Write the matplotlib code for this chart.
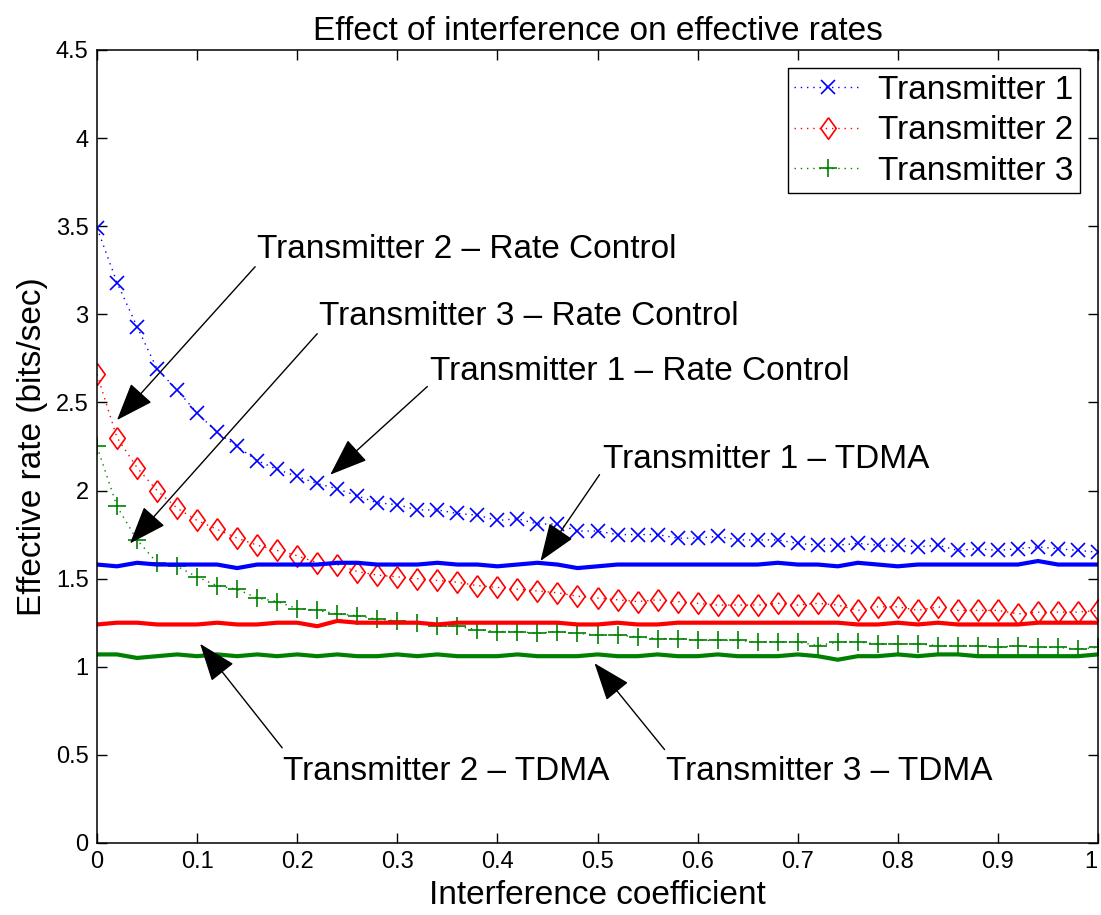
import numpy as np
import matplotlib
matplotlib.use('Agg')
import matplotlib.pyplot as plt
import matplotlib.transforms as mtransforms
from matplotlib.ticker import FormatStrFormatter

plt.rcParams['font.family'] = ['Liberation Sans', 'DejaVu Sans']

# interference coefficient, 0..1 in steps of 0.02
coef = np.round(np.arange(0, 1.0001, 0.02), 2)

# rate control results
rate_tx1 = [3.49, 3.18, 2.93, 2.69, 2.57, 2.44, 2.33, 2.25, 2.17, 2.12,
            2.08, 2.04, 2.01, 1.97, 1.93, 1.92, 1.89, 1.89, 1.87, 1.86,
            1.83, 1.84, 1.81, 1.81, 1.77, 1.77, 1.75, 1.75, 1.75, 1.73,
            1.73, 1.74, 1.72, 1.72, 1.72, 1.70, 1.69, 1.69, 1.70, 1.69,
            1.69, 1.68, 1.69, 1.66, 1.67, 1.66, 1.67, 1.68, 1.67, 1.66,
            1.65]
rate_tx2 = [2.66, 2.30, 2.13, 2.00, 1.90, 1.83, 1.78, 1.73, 1.69, 1.66,
            1.63, 1.59, 1.58, 1.54, 1.52, 1.51, 1.50, 1.49, 1.48, 1.46,
            1.45, 1.44, 1.43, 1.42, 1.40, 1.39, 1.38, 1.37, 1.38, 1.37,
            1.36, 1.35, 1.35, 1.35, 1.36, 1.35, 1.36, 1.35, 1.32, 1.34,
            1.34, 1.32, 1.34, 1.32, 1.32, 1.32, 1.30, 1.31, 1.31, 1.31,
            1.32]
rate_tx3 = [2.25, 1.91, 1.72, 1.59, 1.57, 1.51, 1.46, 1.44, 1.39, 1.37,
            1.33, 1.32, 1.30, 1.29, 1.27, 1.26, 1.25, 1.23, 1.23, 1.21,
            1.20, 1.20, 1.19, 1.20, 1.19, 1.18, 1.18, 1.17, 1.16, 1.16,
            1.15, 1.15, 1.15, 1.14, 1.14, 1.14, 1.12, 1.14, 1.14, 1.13,
            1.13, 1.13, 1.12, 1.12, 1.12, 1.11, 1.12, 1.11, 1.11, 1.10,
            1.11]

# TDMA results
tdma_tx1 = [1.58, 1.57, 1.59, 1.58, 1.58, 1.58, 1.58, 1.56, 1.58, 1.58,
            1.58, 1.58, 1.59, 1.59, 1.58, 1.58, 1.58, 1.59, 1.58, 1.58,
            1.57, 1.58, 1.59, 1.58, 1.56, 1.57, 1.58, 1.58, 1.58, 1.58,
            1.58, 1.58, 1.58, 1.58, 1.59, 1.58, 1.58, 1.57, 1.59, 1.58,
            1.57, 1.58, 1.58, 1.58, 1.58, 1.58, 1.58, 1.60, 1.58, 1.58,
            1.58]
tdma_tx2 = [1.24, 1.25, 1.25, 1.24, 1.24, 1.24, 1.25, 1.24, 1.24, 1.25,
            1.25, 1.23, 1.26, 1.25, 1.25, 1.25, 1.25, 1.24, 1.25, 1.25,
            1.25, 1.25, 1.25, 1.25, 1.24, 1.24, 1.25, 1.24, 1.24, 1.25,
            1.25, 1.25, 1.25, 1.25, 1.25, 1.25, 1.25, 1.25, 1.24, 1.24,
            1.25, 1.24, 1.25, 1.24, 1.24, 1.24, 1.24, 1.25, 1.25, 1.25,
            1.25]
tdma_tx3 = [1.07, 1.07, 1.05, 1.06, 1.07, 1.06, 1.07, 1.06, 1.07, 1.06,
            1.07, 1.06, 1.07, 1.06, 1.06, 1.07, 1.06, 1.07, 1.06, 1.06,
            1.06, 1.07, 1.06, 1.06, 1.06, 1.07, 1.06, 1.06, 1.07, 1.06,
            1.06, 1.07, 1.06, 1.06, 1.06, 1.07, 1.06, 1.04, 1.06, 1.06,
            1.07, 1.06, 1.07, 1.07, 1.06, 1.06, 1.06, 1.06, 1.06, 1.06,
            1.07]

labels = ['Transmitter 1', 'Transmitter 2', 'Transmitter 3']
colors = ['#0000ff', '#ff0000', '#008000']

# diamond a bit narrower than tall
diamond = [(0, 1), (0.72, 0), (0, -1), (-0.72, 0), (0, 1)]
dots = (0, (1, 3.5))

fig = plt.figure(figsize=(11.01, 9.15), dpi=100)
ax = fig.add_axes([0.0881, 0.0787, 0.9092, 0.8667])

ax.plot(coef, rate_tx1, linestyle=dots, color=colors[0], lw=1, marker='x',
        ms=10, mew=1.2, label=labels[0])
ax.plot(coef, rate_tx2, linestyle=dots, color=colors[1], lw=1, marker=diamond,
        ms=15.5, mew=1.2, mfc='none', label=labels[1])
ax.plot(coef, rate_tx3, linestyle=dots, color=colors[2], lw=1, marker='+',
        ms=13, mew=1.2, label=labels[2])

ax.plot(coef, tdma_tx1, '-', color=colors[0], lw=3)
ax.plot(coef, tdma_tx2, '-', color=colors[1], lw=3)
ax.plot(coef, tdma_tx3, '-', color=colors[2], lw=3)

# text, text baseline-left, arrow tail, arrow tip
notes = [
    ('Transmitter 2 – Rate Control', (0.160, 3.32), (0.158, 3.27), (0.020, 2.40)),
    ('Transmitter 3 – Rate Control', (0.222, 2.94), (0.220, 2.89), (0.033, 1.70)),
    ('Transmitter 1 – Rate Control', (0.333, 2.63), (0.330, 2.59), (0.233, 2.09)),
    ('Transmitter 1 – TDMA', (0.505, 2.13), (0.502, 2.09), (0.443, 1.60)),
    ('Transmitter 2 – TDMA', (0.186, 0.36), (0.185, 0.54), (0.103, 1.13)),
    ('Transmitter 3 – TDMA', (0.568, 0.36), (0.567, 0.53), (0.497, 1.02)),
]
for txt, pos, tail, tip in notes:
    ax.annotate('', xy=tip, xytext=tail,
                arrowprops=dict(arrowstyle='-|>,head_length=1.2,head_width=0.45',
                                color='k', lw=1, mutation_scale=20,
                                shrinkA=0, shrinkB=0))
    ax.text(pos[0], pos[1], txt, fontsize=24, ha='left', va='baseline')

ax.set_xlim(0, 1)
ax.set_ylim(0, 4.5)
ax.set_xticks(np.arange(0, 1.01, 0.1))
ax.set_yticks(np.arange(0, 4.51, 0.5))
ax.xaxis.set_major_formatter(FormatStrFormatter('%g'))
ax.yaxis.set_major_formatter(FormatStrFormatter('%g'))
ax.tick_params(direction='in', top=True, right=True, length=7, width=1,
               labelsize=17, pad=6)
for s in ax.spines.values():
    s.set_linewidth(1.1)

# keep the last x tick label inside the figure
fig.canvas.draw()
last = ax.get_xticklabels()[-1]
last.set_transform(last.get_transform() +
                   mtransforms.ScaledTranslation(-5 / 72, 0, fig.dpi_scale_trans))

ax.set_title('Effect of interference on effective rates', fontsize=24, pad=7)
ax.set_xlabel('Interference coefficient', fontsize=24, labelpad=5)
ax.set_ylabel('Effective rate (bits/sec)', fontsize=24, labelpad=6)

leg = ax.legend(loc='upper right', fontsize=24, fancybox=False,
                edgecolor='k', framealpha=1, borderaxespad=0.55,
                handlelength=2.0, labelspacing=0.28, borderpad=0.2,
                handletextpad=0.5)
leg.get_frame().set_linewidth(1)

fig.savefig('out.png', dpi=100)
